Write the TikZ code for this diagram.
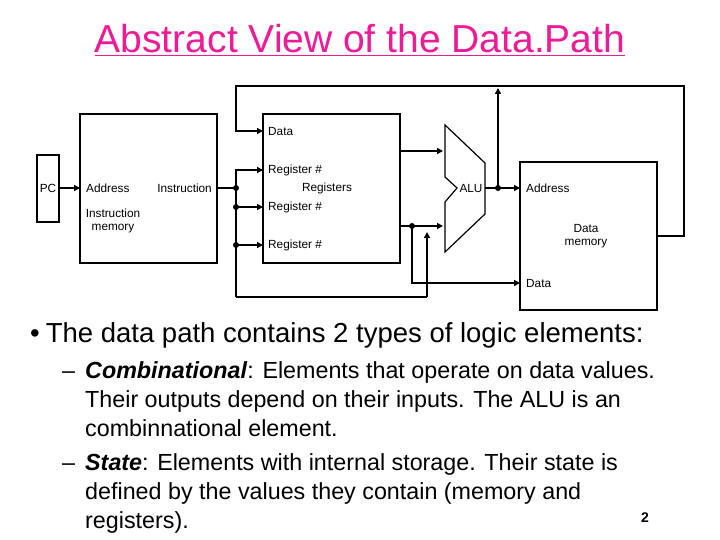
\documentclass[tikz,border=0pt]{standalone}
\usepackage{fontspec}
\setmainfont{Liberation Sans}
\usetikzlibrary{arrows.meta}
\begin{document}
\begin{tikzpicture}[x=1pt,y=-1pt,
  box/.style={draw,line width=1.2pt},
  w/.style={line width=2.4pt},
  a/.style={w,-{Triangle[length=6pt,width=6pt]}},
  lbl/.style={font=\fontsize{11.8}{13}\selectfont,inner sep=0pt},
  dot/.style={circle,fill,inner sep=0pt,minimum size=6pt},
  body/.style={font=\fontsize{27.5}{30}\selectfont,inner sep=0pt,anchor=base west,align=left}]
\useasboundingbox (0,0) rectangle (720,540);
\node[font=\fontsize{39}{42}\selectfont,text=magenta!90!white,inner sep=0pt] (title) at (360,40) {\underline{Abstract View of the Data.Path}};
% boxes
\draw[box] (37,155) rectangle (59,222);
\node[lbl] (pc) at (48,188) {PC};
\draw[box] (80,114) rectangle (217,263);
\node[lbl,anchor=west] (ad) at (86,188) {Address};
\node[lbl,anchor=east] (ins) at (212,188) {Instruction};
\node[lbl,align=center] (im) at (113,221) {Instruction\\memory};
\draw[box] (263,114) rectangle (400,263);
\node[lbl,anchor=west] at (268,131) {Data};
\node[lbl,anchor=west] at (268,170) {Register \#};
\node[lbl,anchor=west] at (268,207) {Register \#};
\node[lbl,anchor=west] at (268,245) {Register \#};
\node[lbl] at (327,188) {Registers};
\draw[box] (520,162) rectangle (657,310);
\node[lbl,anchor=west] at (526,188) {Address};
\node[lbl,align=center] at (586,236) {Data\\memory};
\node[lbl,anchor=west] at (526,283) {Data};
\draw[box] (445,125) -- (485,163) -- (485,214) -- (445,252) -- (445,202) -- (457,188) -- (445,177) -- cycle;
\node[lbl] at (471,188) {ALU};
% coordinates
\coordinate (j1) at (236,188);
\node[dot] (d1) at (j1) {};
\node[dot] (d2) at (236,207) {};
\node[dot] (d3) at (236,245) {};
\node[dot] (d4) at (412,226) {};
\node[dot] (d5) at (498,188) {};
% wires
\draw[a] (59,188) -- (80,188);
\draw[w] (217,188) -- (j1);
\draw[w] (236,297) -- (236,170) -- (263,170);
\draw[a] (254,170) -- (263,170);
\draw[a] (236,207) -- (263,207);
\draw[a] (236,245) -- (263,245);
\draw[w] (236,297) -- (427,297);
\draw[a] (427,297) -- (427,232);
\draw[a] (400,151) -- (443,151);
\draw[a] (400,226) -- (443,226);
\draw[a] (412,226) -- (412,283) -- (520,283);
\draw[a] (485,188) -- (520,188);
\draw[a] (498,188) -- (498,88);
\draw[a] (657,236) -- (684,236) -- (684,86) -- (236,86) -- (236,131) -- (263,131);
% text
\node[body] at (30,342) {•\hspace{6pt}The data path contains 2 types of logic elements:};
\begin{scope}[every node/.style={font=\fontsize{23.3}{29}\selectfont,inner sep=0pt,align=left}]
\node[anchor=base west] at (62,378) {–};
\node[anchor=north west] at (85,361) {\textbf{\textit{Combinational}}: Elements that operate on data values.\\Their outputs depend on their inputs. The ALU is an\\combinnational element.};
\node[anchor=base west] at (62,470) {–};
\node[anchor=north west] at (85,453) {\textbf{\textit{State}}: Elements with internal storage. Their state is\\defined by the values they contain (memory and\\registers).};
\end{scope}
\node[font=\bfseries\fontsize{14}{16}\selectfont,inner sep=0pt] at (645,518) {2};
\end{tikzpicture}
\end{document}
